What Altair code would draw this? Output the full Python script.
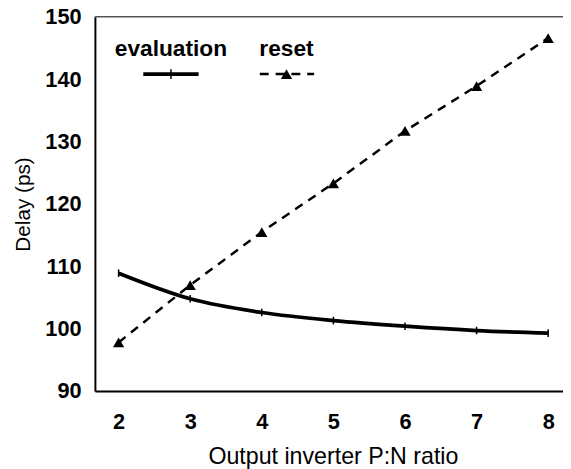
import altair as alt
import pandas as pd

ratio = [2, 3, 4, 5, 6, 7, 8]
evaluation = [108.9, 104.8, 102.6, 101.3, 100.4, 99.7, 99.3]
reset = [97.8, 107.0, 115.5, 123.3, 131.7, 138.9, 146.6]
y_ticks = [90, 100, 110, 120, 130, 140, 150]

W, H = 474, 379
FONT = "Liberation Sans"

df = pd.DataFrame({"ratio": ratio, "evaluation": evaluation, "reset": reset})

xscale = alt.Scale(domain=[1.669, 8.207], nice=False, zero=False)
yscale = alt.Scale(domain=[90, 150], nice=False, zero=False)

xenc = alt.X("ratio:Q", scale=xscale,
             axis=alt.Axis(values=ratio, title="Output inverter P:N ratio", format="d",
                           labelPadding=21, titlePadding=12, titleFontSize=23.5,
                           titleX=241, titleAlign="center"))
base = alt.Chart(df)

eval_line = base.mark_line(color="black", strokeWidth=3.8, interpolate="monotone").encode(
    x=xenc,
    y=alt.Y("evaluation:Q", scale=yscale,
            axis=alt.Axis(values=y_ticks, title="Delay (ps)", labelPadding=14,
                          titlePadding=12, titleFontSize=21)),
)
eval_pts = base.mark_point(shape="M0,-1L0,1", size=60, color="black", strokeWidth=1.5,
                           filled=False, opacity=1).encode(
    x=alt.X("ratio:Q", scale=xscale),
    y=alt.Y("evaluation:Q", scale=yscale),
)
reset_line = base.mark_line(color="black", strokeWidth=2.5, strokeDash=[9, 7]).encode(
    x=alt.X("ratio:Q", scale=xscale),
    y=alt.Y("reset:Q", scale=yscale),
)
reset_pts = base.mark_point(shape="triangle-up", size=130, color="black", filled=True,
                            opacity=1).encode(
    x=alt.X("ratio:Q", scale=xscale),
    y=alt.Y("reset:Q", scale=yscale),
)

one = pd.DataFrame({"a": [0]})
top_line = alt.Chart(one).mark_rule(color="#555555", strokeWidth=1.5).encode(
    x=alt.value(0), x2=alt.value(W), y=alt.value(0))

legend_names = pd.DataFrame({"t": ["evaluation", "reset"], "px": [77, 194]})
leg_text = alt.Chart(legend_names).mark_text(font=FONT, fontSize=23, fontWeight="bold",
                                             color="black", baseline="middle",
                                             align="center").encode(
    text="t:N", x=alt.X("px:Q", scale=None), y=alt.value(33))
leg_eval_line = alt.Chart(one).mark_rule(color="black", strokeWidth=3.8).encode(
    x=alt.value(49), x2=alt.value(105), y=alt.value(58))
leg_eval_tick = alt.Chart(one).mark_rule(color="black", strokeWidth=1.5).encode(
    x=alt.value(77), y=alt.value(53), y2=alt.value(63))
leg_reset_line = alt.Chart(one).mark_rule(color="black", strokeWidth=2.5,
                                          strokeDash=[9, 7]).encode(
    x=alt.value(167), x2=alt.value(222), y=alt.value(58))
leg_reset_tri = alt.Chart(one).mark_point(shape="triangle-up", size=130, color="black",
                                          filled=True, opacity=1).encode(
    x=alt.value(194), y=alt.value(58))

chart = alt.layer(
    top_line, reset_line, eval_line, eval_pts, reset_pts,
    leg_text, leg_eval_line, leg_eval_tick, leg_reset_line, leg_reset_tri,
).properties(
    width=W, height=H,
    autosize=alt.AutoSizeParams(type="none"),
    padding={"left": 88, "top": 6, "right": 0, "bottom": 78},
).configure_view(stroke=None).configure_axis(
    grid=False, ticks=False, domainColor="black", domainWidth=2,
    labelFont=FONT, labelFontSize=22, labelFontWeight="bold", labelColor="black",
    titleFont=FONT, titleFontSize=23, titleFontWeight="normal", titleColor="black",
)

chart.save("out.html", embed_options={"renderer": "svg", "actions": False})
